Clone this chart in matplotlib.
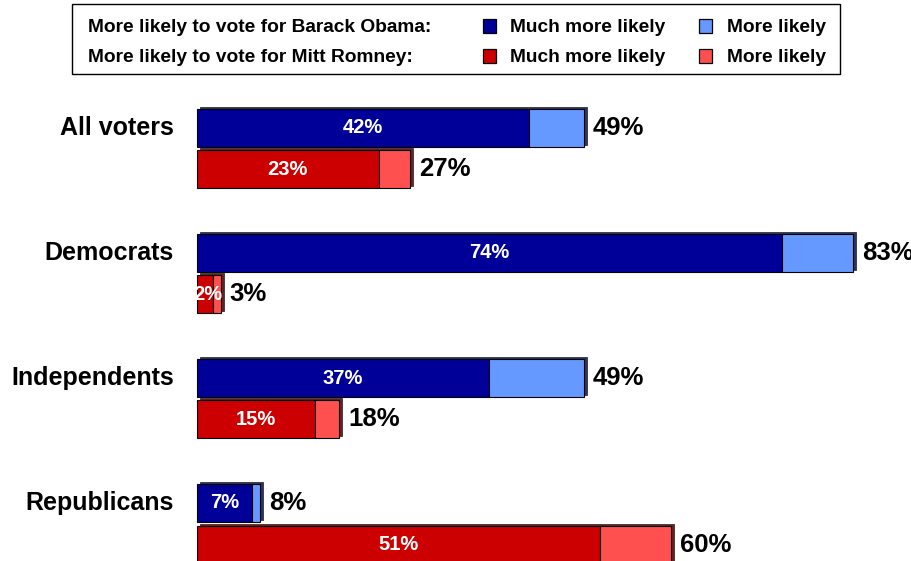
import matplotlib
matplotlib.use("Agg")
import matplotlib.pyplot as plt
from matplotlib.patches import Rectangle
from matplotlib.transforms import offset_copy, blended_transform_factory

plt.rcParams['font.family'] = ['Liberation Sans', 'DejaVu Sans']

categories = ["All voters", "Democrats", "Independents", "Republicans"]
obama_much = [42, 74, 37, 7]
obama_more = [7, 9, 12, 1]
obama_total = [49, 83, 49, 8]
romney_much = [23, 2, 15, 51]
romney_more = [4, 1, 3, 9]
romney_total = [27, 3, 18, 60]

C_OB_MUCH = "#000099"
C_OB_MORE = "#6699FF"
C_RO_MUCH = "#CC0000"
C_RO_MORE = "#FF5050"

W, H = 912, 561
fig = plt.figure(figsize=(W / 100, H / 100), dpi=100)
ax = fig.add_axes([0, 0, 1, 1])
ax.axis('off')

px_per_pct = 7.9
x0 = 197
ax.set_xlim(-x0 / px_per_pct, (W - x0) / px_per_pct)
unit = 125.0
c0 = 148.75
ax.set_ylim((H - c0) / unit, -c0 / unit)

bh = 38 / unit
off = 20.75 / unit
ys = list(range(len(categories)))
y_ob = [y - off for y in ys]
y_ro = [y + off for y in ys]

shadow = offset_copy(ax.transData, fig=fig, x=3, y=2, units='dots')

def stack(yv, much, more, total, cm, cl, shade):
    ax.barh(yv, total, height=bh, left=0, color=shade, edgecolor='#333333',
            linewidth=0.6, transform=shadow, zorder=1)
    ax.barh(yv, much, height=bh, left=0, color=cm, edgecolor='black',
            linewidth=0.8, zorder=2)
    ax.barh(yv, more, height=bh, left=much, color=cl, edgecolor='black',
            linewidth=0.8, zorder=2)
    for y, m, t in zip(yv, much, total):
        ax.annotate(f"{m}%", xy=(m / 2, y), xytext=(3 if m < 5 else 0, 0),
                    textcoords='offset pixels', ha='center', va='center',
                    color='white', fontsize=14.5, fontweight='bold', zorder=3)
        ax.annotate(f"{t}%", xy=(t, y), xytext=(9, 0), textcoords='offset pixels',
                    ha='left', va='center', fontsize=18.5, fontweight='bold',
                    color='black', zorder=3)

stack(y_ob, obama_much, obama_more, obama_total, C_OB_MUCH, C_OB_MORE, "#2a3560")
stack(y_ro, romney_much, romney_more, romney_total, C_RO_MUCH, C_RO_MORE, "#6a2020")

bt = blended_transform_factory(fig.transFigure, ax.transData)
for y, name in zip(y_ob, categories):
    ax.text(174 / W, y, name, transform=bt, ha='right', va='center',
            fontsize=18, fontweight='bold')

# legend box
fig.patches.append(Rectangle((72 / W, 1 - 74 / H), (840 - 72) / W, 70 / H,
                             transform=fig.transFigure, facecolor='white',
                             edgecolor='black', linewidth=1.0))
rows = [("More likely to vote for Barack Obama:", C_OB_MUCH, C_OB_MORE, 26),
        ("More likely to vote for Mitt Romney:", C_RO_MUCH, C_RO_MORE, 56)]
for label, cm, cl, yp in rows:
    yf = 1 - (yp + 1.5) / H
    fig.text(88 / W, yf, label, ha='left', va='center', fontsize=13.8, fontweight='bold')
    for sx, col, tx, txt in [(483, cm, 510, "Much more likely"), (699, cl, 727, "More likely")]:
        fig.patches.append(Rectangle((sx / W, 1 - (yp + 6.5) / H), 13 / W, 13 / H,
                                     transform=fig.transFigure, facecolor=col,
                                     edgecolor='black', linewidth=0.9))
        fig.text(tx / W, yf, txt, ha='left', va='center', fontsize=13.8,
                 fontweight='bold')

fig.savefig("out.png", dpi=100)
